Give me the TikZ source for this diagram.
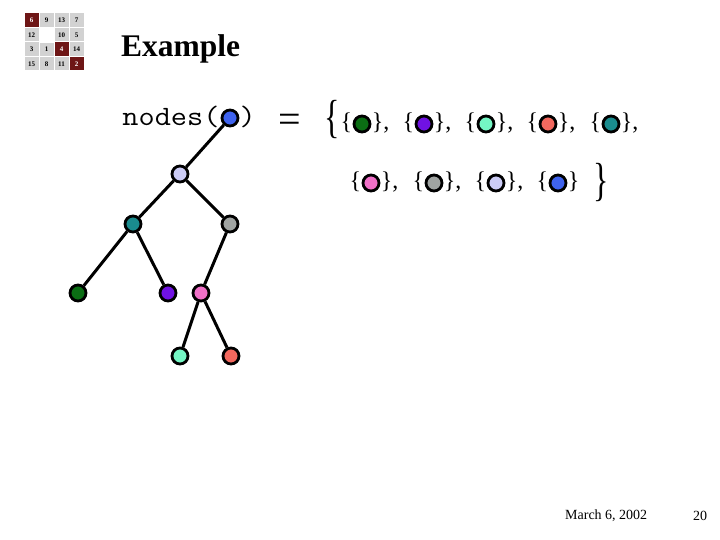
\documentclass[tikz,border=0pt]{standalone}
\usepackage{fontspec}
\setmainfont{Liberation Serif}
\definecolor{cblue}{HTML}{3F63EE}
\definecolor{clav}{HTML}{CCCCF6}
\definecolor{cteal}{HTML}{1A8C8E}
\definecolor{cgray}{HTML}{A0A4A2}
\definecolor{cgreen}{HTML}{0B6E14}
\definecolor{cpurple}{HTML}{7012E2}
\definecolor{cpink}{HTML}{F070C8}
\definecolor{caqua}{HTML}{74F6C4}
\definecolor{csalmon}{HTML}{F2685E}
\definecolor{tilegray}{HTML}{D2D2D2}
\definecolor{tilered}{HTML}{6E1616}
\tikzset{
  dotnode/.style={circle,draw=black,line width=2.8pt,minimum size=16pt,inner sep=0pt,fill=#1},
  edge/.style={line width=3pt,black},
  settxt/.style={font=\fontsize{24}{26}\selectfont,inner sep=0.3pt},
  tile/.style={fill=tilegray,draw=white,line width=1pt},
  tilenum/.style={font=\fontsize{7}{8}\selectfont\bfseries,text=black,inner sep=0pt},
}
\begin{document}
\begin{tikzpicture}[x=1pt,y=-1pt]
\useasboundingbox (0,0) rectangle (720,540);
% logo
\foreach \r/\c/\n/\k in {0/0/6/1,0/1/9/0,0/2/13/0,0/3/7/0,
  1/0/12/0,1/2/10/0,1/3/5/0,
  2/0/3/0,2/1/1/0,2/2/4/1,2/3/14/0,
  3/0/15/0,3/1/8/0,3/2/11/0,3/3/2/1}{
  \ifnum\k=1
    \fill[tilered,draw=white,line width=1pt] (24+15*\c,13+14.5*\r) rectangle ++(15,14.5);
    \node[tilenum,text=white] (t\n) at (31.5+15*\c,20.25+14.5*\r) {\n};
  \else
    \path[tile] (24+15*\c,13+14.5*\r) rectangle ++(15,14.5);
    \node[tilenum] (t\n) at (31.5+15*\c,20.25+14.5*\r) {\n};
  \fi
}
\draw[white,fill=white] (39,27.5) rectangle ++(15,14.5);
% title
\node[anchor=west,font=\fontsize{31.5}{34}\selectfont\bfseries,inner sep=0pt] (title) at (121,49) {Example};
% nodes(
\node[dotnode=cblue] (nb) at (230,118) {};
\node[anchor=east,font=\fontsize{28}{30}\selectfont\ttfamily,inner sep=0pt] (nodestxt) at ([xshift=-1pt,yshift=1pt]nb.west) {\scalebox{1.12}[1]{nodes(}};
\node[anchor=west,font=\fontsize{28}{30}\selectfont\ttfamily,inner sep=0pt] (closep) at ([xshift=0pt,yshift=1pt]nb.east) {\scalebox{1.12}[1]{)}};
% equals
\node[font=\fontsize{40}{40}\selectfont,inner sep=0pt] (eq) at (290,123) {=};
% big braces
\node[inner sep=0pt] (lb) at (332,120) {\scalebox{1}[1.45]{\fontsize{32}{32}\selectfont\{}};
\node[inner sep=0pt] (rb) at (601,183) {\scalebox{1}[1.45]{\fontsize{32}{32}\selectfont\}}};
% set items row 1
\foreach \x/\col/\nm in {362/cgreen/s1,424/cpurple/s2,486/caqua/s3,548/csalmon/s4,611/cteal/s5}{
  \node[dotnode=\col] (\nm) at (\x,124) {};
  \node[settxt,anchor=east] (\nm l) at ([yshift=1pt]\nm.west) {\{};
  \node[settxt,anchor=west] (\nm r) at ([yshift=1pt]\nm.east) {\},};
}
% set items row 2
\foreach \x/\col/\nm/\t in {371/cpink/s6/{\},},434/cgray/s7/{\},},496/clav/s8/{\},},558/cblue/s9/{\}}}{
  \node[dotnode=\col] (\nm) at (\x,183) {};
  \node[settxt,anchor=east] (\nm l) at ([yshift=1pt]\nm.west) {\{};
  \node[settxt,anchor=west] (\nm r) at ([yshift=1pt]\nm.east) {\t};
}
% tree
\node[dotnode=clav] (root) at (180,174) {};
\node[dotnode=cteal] (teal) at (133,224) {};
\node[dotnode=cgray] (gray) at (230,224) {};
\node[dotnode=cgreen] (green) at (78,293) {};
\node[dotnode=cpurple] (purple) at (168,293) {};
\node[dotnode=cpink] (pink) at (201,293) {};
\node[dotnode=caqua] (aqua) at (180,356) {};
\node[dotnode=csalmon] (salmon) at (231,356) {};
\draw[edge] (nb) -- (root);
\draw[edge] (root) -- (teal);
\draw[edge] (root) -- (gray);
\draw[edge] (teal) -- (green);
\draw[edge] (teal) -- (purple);
\draw[edge] (gray) -- (pink);
\draw[edge] (pink) -- (aqua);
\draw[edge] (pink) -- (salmon);
% footer
\node[anchor=west,font=\fontsize{14}{16}\selectfont,inner sep=0pt] (date) at (565,516) {March 6, 2002};
\node[anchor=west,font=\fontsize{14}{16}\selectfont,inner sep=0pt] (page) at (693,516) {20};
\end{tikzpicture}
\end{document}
